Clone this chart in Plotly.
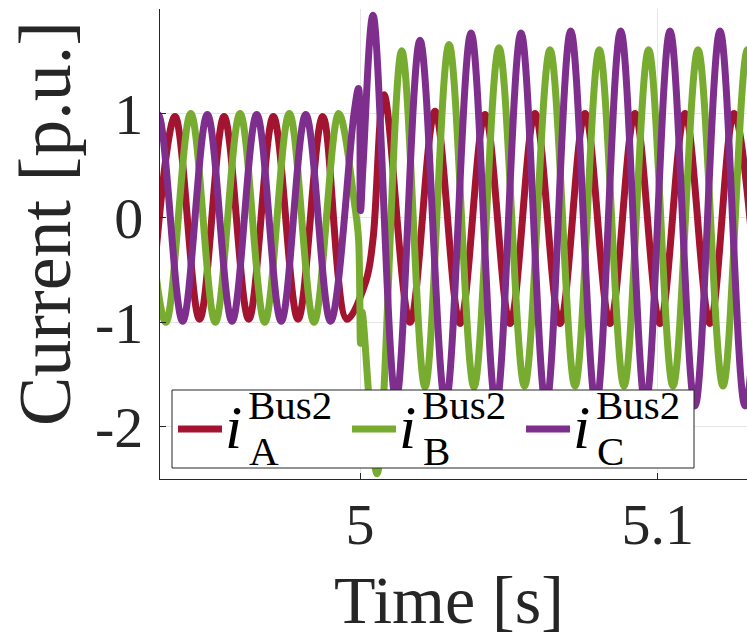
import plotly.graph_objects as go

# Three-phase current at Bus 2 around the fault instant (t = 5 s).
# Each list holds the turning points (peaks / troughs) and the few
# transient points of one phase; the spline line joins them.
t_a = [4.92953, 4.93786, 4.94609, 4.95432, 4.96261, 4.97088, 4.97917, 4.98747,
       4.99563, 5.00202, 5.00437, 5.00806, 5.01680, 5.02519, 5.03359, 5.04199,
       5.05039, 5.05878, 5.06718, 5.07558, 5.08398, 5.09237, 5.10077, 5.10917,
       5.11757, 5.12563, 5.13403]
i_a = [-0.97, 0.97, -0.97, 0.97, -0.97, 0.97, -0.97, 0.97,
       -0.97, -0.6, -0.2, 1.18, -1.0, 1.02, -1.01, 0.99,
       -1.01, 1.0, -1.01, 1.0, -1.01, 1.0, -1.01, 1.0,
       -1.01, 1.0, -1.01]

t_b = [4.92644, 4.93477, 4.94313, 4.95139, 4.95969, 4.96799, 4.97625, 4.98455,
       4.99285, 4.99832, 4.99950, 5.00017, 5.00067, 5.00571, 5.01401, 5.02183,
       5.02990, 5.03829, 5.04669, 5.05526, 5.06382, 5.07222, 5.08038, 5.08868,
       5.09694, 5.10514, 5.11354, 5.12193, 5.13016, 5.13839]
i_b = [1.0, -1.0, 1.0, -1.0, 1.0, -1.0, 1.0, -1.0,
       1.0, 0.1, -0.2, -1.2, -0.9, -2.45, 1.60, -1.62,
       1.66, -1.62, 1.63, -1.61, 1.61, -1.61, 1.61, -1.61,
       1.61, -1.61, 1.61, -1.61, 1.61, -1.61]

t_c = [4.92388, 4.93215, 4.94041, 4.94871, 4.95700, 4.96530, 4.97353, 4.98176,
       4.99009, 4.99798, 4.99950, 5.00017, 5.00101, 5.00437, 5.01209, 5.02015,
       5.02872, 5.03729, 5.04568, 5.05408, 5.06248, 5.07078, 5.07927, 5.08757,
       5.09590, 5.10413, 5.11253, 5.12093, 5.12933, 5.13772]
i_c = [-0.99, 0.99, -0.99, 0.99, -0.99, 0.99, -0.99, 0.99,
       -0.99, 1.0, 1.24, 0.07, 0.5, 1.94, -1.75, 1.70,
       -1.78, 1.77, -1.8, 1.77, -1.8, 1.79, -1.8, 1.79,
       -1.8, 1.79, -1.8, 1.79, -1.8, 1.79]

phases = ["A", "B", "C"]
bus_name = "Bus2"
colors = ["#A2142F", "#77AC30", "#7E2F8E"]

x_ticks = [5.0, 5.1]
x_tick_text = ["5", "5.1"]
y_ticks = [-2, -1, 0, 1]
y_tick_text = ["-2", "-1", "0", "1"]

x_range = [4.9328, 5.1300]
y_range = [-2.5, 2.0]

FONT = "Liberation Serif"
INK = "#262626"

W, H = 747, 642
L, R, T, B = 160, 0, 9, 163
plot_w = W - L - R
plot_h = H - T - B


def px_x(x):
    return (x - L) / plot_w


def px_y(y):
    return (H - B - y) / plot_h


fig = go.Figure()
for t, i, ph, col in zip([t_a, t_b, t_c], [i_a, i_b, i_c], phases, colors):
    fig.add_trace(go.Scatter(
        x=t, y=i, mode="lines", name=f"i_{ph}^{bus_name}",
        line=dict(color=col, width=7, shape="spline", smoothing=1.0),
        showlegend=False, hoverinfo="skip",
    ))

axis_common = dict(
    showline=True, linecolor=INK, linewidth=1.3,
    showgrid=True, gridcolor="#e6e6e6", gridwidth=1,
    zeroline=False, ticks="inside", ticklen=6, tickwidth=1, tickcolor=INK,
    tickfont=dict(family=FONT, size=58, color=INK),
)

fig.update_xaxes(range=x_range, tickvals=x_ticks, ticktext=x_tick_text,
                 ticklabelstandoff=-6, **axis_common)
fig.update_yaxes(range=y_range, tickvals=y_ticks, ticktext=y_tick_text,
                 ticklabelstandoff=4, **axis_common)

annotations = [
    dict(text="Time [s]", x=px_x(449), y=px_y(600), xref="paper", yref="paper",
         xanchor="center", yanchor="middle", showarrow=False,
         font=dict(family=FONT, size=68, color=INK)),
    dict(text="Current [p.u.]", x=px_x(45), y=px_y(224), xref="paper", yref="paper",
         xanchor="center", yanchor="middle", textangle=-90, showarrow=False,
         font=dict(family=FONT, size=74, color=INK)),
]

# Legend box with line samples and stacked super/subscripts
shapes = [dict(type="rect", xref="paper", yref="paper", layer="above",
               x0=px_x(172), x1=px_x(694), y0=px_y(468), y1=px_y(390),
               fillcolor="white", line=dict(color=INK, width=1))]
step = 174
for k, (ph, col) in enumerate(zip(phases, colors)):
    dx = k * step
    shapes.append(dict(type="line", xref="paper", yref="paper", layer="above",
                       x0=px_x(178 + dx), x1=px_x(222 + dx),
                       y0=px_y(429), y1=px_y(429),
                       line=dict(color=col, width=7)))
    annotations.append(dict(text="<i>i</i>", x=px_x(224 + dx), y=px_y(427),
                            xref="paper", yref="paper", xanchor="left",
                            yanchor="middle", showarrow=False, borderpad=0,
                            font=dict(family=FONT, size=62, color="black")))
    annotations.append(dict(text=bus_name, x=px_x(247 + dx), y=px_y(405),
                            xref="paper", yref="paper", xanchor="left",
                            yanchor="middle", showarrow=False, borderpad=0,
                            font=dict(family=FONT, size=41, color="black")))
    annotations.append(dict(text=ph, x=px_x(248 + dx), y=px_y(451),
                            xref="paper", yref="paper", xanchor="left",
                            yanchor="middle", showarrow=False, borderpad=0,
                            font=dict(family=FONT, size=41, color="black")))

fig.update_layout(
    width=W, height=H,
    margin=dict(l=L, r=R, t=T, b=B),
    plot_bgcolor="white", paper_bgcolor="white",
    showlegend=False,
    shapes=shapes, annotations=annotations,
)

fig.write_html("out.html")
